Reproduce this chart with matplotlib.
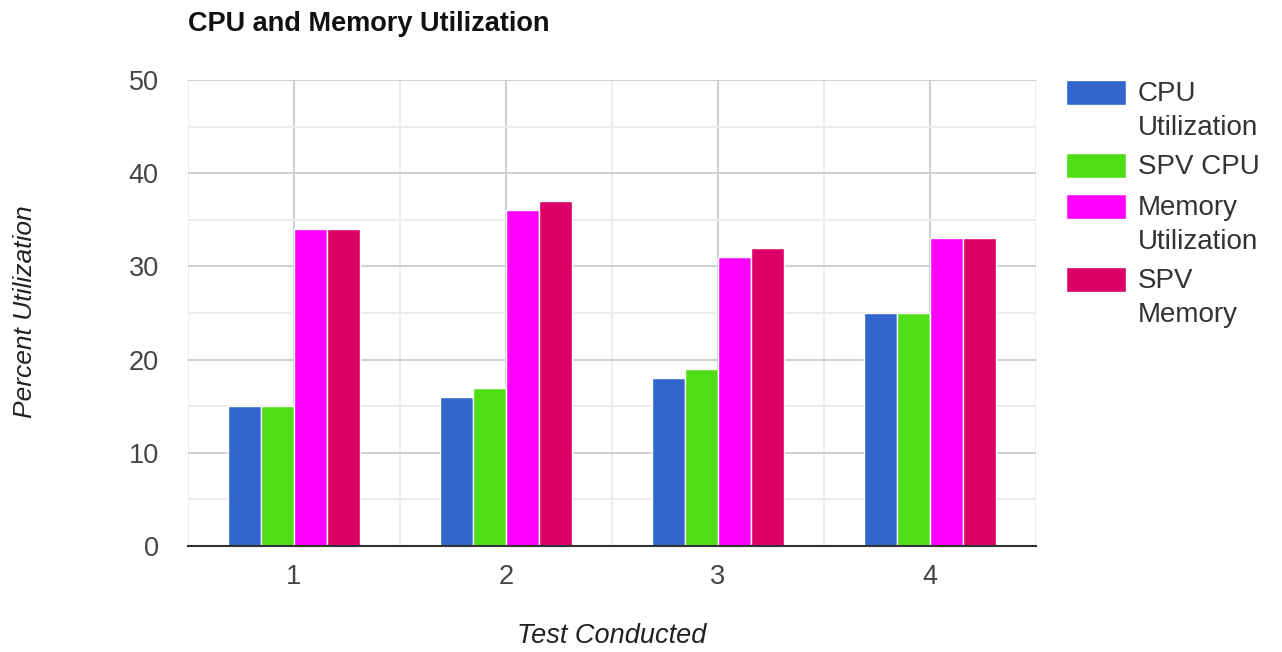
import matplotlib
matplotlib.use('Agg')
import matplotlib.pyplot as plt
from matplotlib.patches import Rectangle
import numpy as np

plt.rcParams['font.family'] = ['Liberation Sans', 'DejaVu Sans']

tests = [1, 2, 3, 4]
series_names = ['CPU\nUtilization', 'SPV CPU', 'Memory\nUtilization', 'SPV\nMemory']
cpu_util = [15, 16, 18, 25]
spv_cpu = [15, 17, 19, 25]
mem_util = [34, 36, 31, 33]
spv_mem = [34, 37, 32, 33]
colors = ['#3366cc', '#4fdf16', '#ff00ff', '#dc0066']

W, H = 1282, 652
fig = plt.figure(figsize=(W / 100, H / 100), dpi=100)
ax = fig.add_axes([188 / W, 1 - 546 / H, (1036 - 188) / W, (546 - 80) / H])

x = np.arange(len(tests)) + 1
step = 0.1557
for i, vals in enumerate([cpu_util, spv_cpu, mem_util, spv_mem]):
    ax.bar(x + (i - 1.5) * step, vals, width=step, color=colors[i],
           edgecolor='white', linewidth=1.0, zorder=3)

ax.set_xlim(0.5, 4.5)
ax.set_ylim(0, 50)

# gridlines
ax.set_yticks([0, 10, 20, 30, 40, 50])
ax.set_yticks([5, 15, 25, 35, 45], minor=True)
ax.set_xticks(x)
ax.set_xticks([0.5, 1.5, 2.5, 3.5, 4.5], minor=True)
ax.grid(which='major', color='#cccccc', linewidth=1.3, zorder=0)
ax.grid(which='minor', color='#ebebeb', linewidth=1.3, zorder=0)
ax.tick_params(which='both', length=0)
ax.tick_params(axis='y', pad=21, labelsize=19.5, labelcolor='#444444')
ax.tick_params(axis='x', pad=13, labelsize=19.5, labelcolor='#444444')
ax.set_xticklabels([str(t) for t in tests])

for s in ['top', 'right', 'left']:
    ax.spines[s].set_visible(False)
ax.spines['bottom'].set_color('#333333')
ax.spines['bottom'].set_linewidth(1.5)
ax.spines['bottom'].set_zorder(4)

# titles
fig.text(188 / W, 1 - 24 / H, 'CPU and Memory Utilization', fontsize=19.5,
         fontweight='bold', color='#111111', ha='left', va='center')
fig.text(612 / W, 1 - 636 / H, 'Test Conducted', fontsize=19.5, style='italic',
         color='#222222', ha='center', va='center')
fig.text(25 / W, 1 - 312 / H, 'Percent Utilization', fontsize=19, style='italic',
         color='#222222', ha='center', va='center', rotation=90)

# legend
legend_tops = [80, 153, 194, 267]
for name, col, top in zip(series_names, colors, legend_tops):
    fig.add_artist(Rectangle((1066 / W, 1 - (top + 25) / H), 60 / W, 25 / H,
                             transform=fig.transFigure, facecolor=col,
                             edgecolor='white', linewidth=1))
    fig.text(1138 / W, 1 - (top + 1) / H, name, fontsize=20, color='#333333',
             ha='left', va='top', linespacing=1.4)

fig.savefig('out.png', dpi=100)
